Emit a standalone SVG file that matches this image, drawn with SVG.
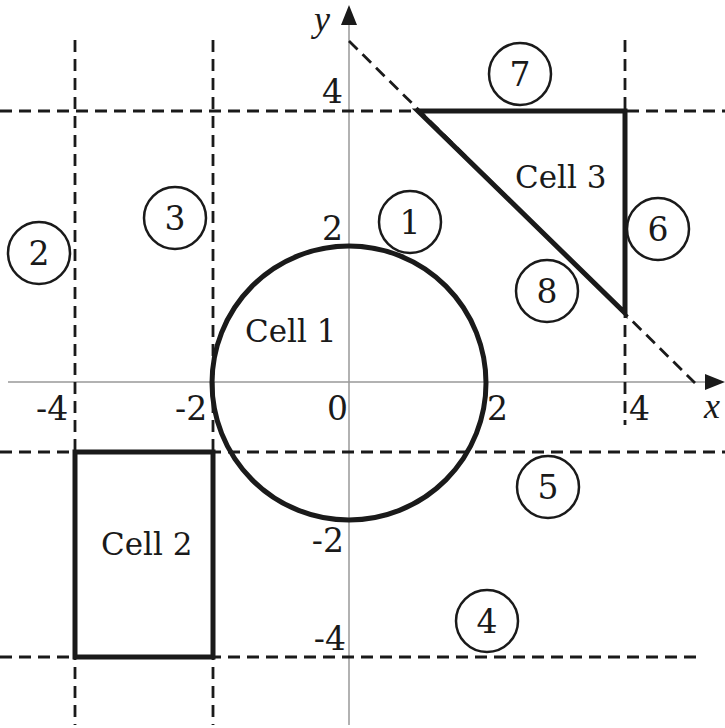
<svg xmlns="http://www.w3.org/2000/svg" width="725" height="728" viewBox="0 0 725 728">
<style>
.dash{stroke:#1a1a1a;stroke-width:2.8;stroke-dasharray:12 7;fill:none}
.axis{stroke:#999;stroke-width:1.5;fill:none}
.cell{stroke:#1a1a1a;stroke-width:5;fill:none}
.lab{stroke:#1a1a1a;stroke-width:2.5;fill:none}
.t{font-family:'DejaVu Serif',serif;font-size:33px;fill:#1a1a1a}
.c{font-family:'DejaVu Serif',serif;font-size:31px;fill:#1a1a1a}
.num{text-anchor:middle}
.it{font-family:'Liberation Serif',serif;font-style:italic;font-size:36px;fill:#1a1a1a}
</style>
<rect width="725" height="728" fill="#fff"/>
<g id="axes">
<line class="axis" x1="349" y1="22" x2="349" y2="725"/>
<line class="axis" x1="8" y1="382" x2="708" y2="382"/>
<polygon points="349,5 341,25 357,25" fill="#1a1a1a"/>
<polygon points="725,382 705,374 705,390" fill="#1a1a1a"/>
<text class="it" x="314" y="31" font-size="34">y</text>
<text class="it" x="704" y="418">x</text>
</g>
<g id="connectors">
<line class="dash" x1="0" y1="111" x2="725" y2="111"/>
<line class="dash" x1="0" y1="452" x2="725" y2="452"/>
<line class="dash" x1="0" y1="657" x2="700" y2="657"/>
<line class="dash" x1="75" y1="40" x2="75" y2="725"/>
<line class="dash" x1="213" y1="40" x2="213" y2="725"/>
<line class="dash" x1="625" y1="40" x2="625" y2="425"/>
<line class="dash" x1="349" y1="41" x2="695" y2="383"/>
</g>
<g id="ticks">
<text class="t" x="343" y="103" text-anchor="end">4</text>
<text class="t" x="343" y="240" text-anchor="end">2</text>
<text class="t" x="348" y="420" text-anchor="end">0</text>
<text class="t" x="487" y="420">2</text>
<text class="t" x="629" y="420">4</text>
<text class="t" x="36" y="420">-4</text>
<text class="t" x="175" y="420">-2</text>
<text class="t" x="344" y="552" text-anchor="end">-2</text>
<text class="t" x="346" y="650" text-anchor="end">-4</text>
</g>
<g id="cell1">
<circle class="cell" cx="349" cy="383" r="137"/>
<text class="c" x="245" y="342">Cell 1</text>
</g>
<g id="cell2">
<rect class="cell" x="75" y="452" width="138" height="205"/>
<text class="c" x="101" y="555">Cell 2</text>
</g>
<g id="cell3">
<polygon class="cell" points="418,111 625,111 625,313"/>
<text class="c" x="515" y="188">Cell 3</text>
</g>
<g id="region1"><circle class="lab" cx="410" cy="222" r="31"/><text class="t num" x="410" y="234">1</text></g>
<g id="region2"><circle class="lab" cx="39" cy="253" r="31"/><text class="t num" x="39" y="265">2</text></g>
<g id="region3"><circle class="lab" cx="175" cy="218" r="31"/><text class="t num" x="175" y="230">3</text></g>
<g id="region4"><circle class="lab" cx="487" cy="621" r="31"/><text class="t num" x="487" y="633">4</text></g>
<g id="region5"><circle class="lab" cx="548" cy="487" r="31"/><text class="t num" x="548" y="499">5</text></g>
<g id="region6"><circle class="lab" cx="658" cy="229" r="31"/><text class="t num" x="658" y="241">6</text></g>
<g id="region7"><circle class="lab" cx="520" cy="74" r="31"/><text class="t num" x="520" y="86">7</text></g>
<g id="region8"><circle class="lab" cx="547" cy="291" r="31"/><text class="t num" x="547" y="303">8</text></g>
</svg>
